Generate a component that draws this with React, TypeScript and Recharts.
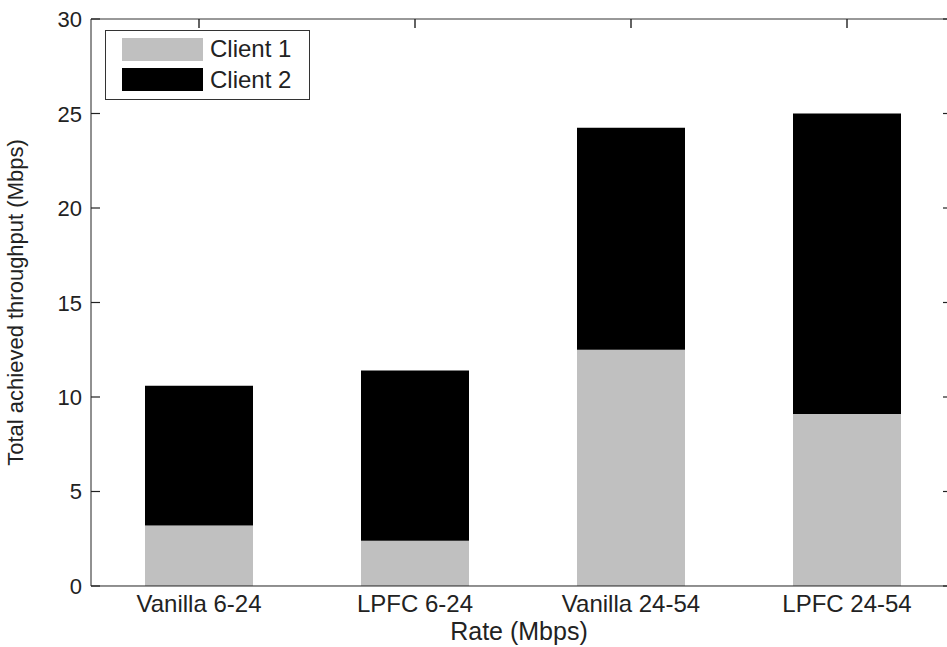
import { BarChart, Bar, XAxis, YAxis, Legend } from "recharts";

const categories = ["Vanilla 6-24", "LPFC 6-24", "Vanilla 24-54", "LPFC 24-54"];
const client1 = [3.2, 2.4, 12.5, 9.1];
const client2 = [7.4, 9.0, 11.75, 15.9];
const yTicks = [0, 5, 10, 15, 20, 25, 30];

const data = categories.map((name, i) => ({ name, c1: client1[i], c2: client2[i] }));

const FONT = "'Liberation Sans', Arial, sans-serif";
const INK = "#222";

// layout of the plot box (the right edge runs past the window, as in the original)
const CHART_W = 956;
const CHART_H = 647;
const MARGIN = { top: 19, right: 1, bottom: 61, left: 0 };
const Y_AXIS_W = 91;
const PLOT_W = CHART_W - MARGIN.left - MARGIN.right - Y_AXIS_W;
const PLOT_H = CHART_H - MARGIN.top - MARGIN.bottom;
const TICK = 9;

// MATLAB style: tick marks point into the plot, on left and right sides
const LeftTick = ({ x, y, payload }: any) => (
  <g>
    <line x1={x} y1={y} x2={x + TICK} y2={y} stroke={INK} strokeWidth={1.2} />
    <line x1={x + PLOT_W} y1={y} x2={x + PLOT_W - TICK - 3} y2={y} stroke={INK} strokeWidth={1.2} />
    <text x={x - 9} y={y} dy={8} textAnchor="end" fontSize={22} fontFamily={FONT} fill={INK}>
      {payload.value}
    </text>
  </g>
);

// label under the bar plus the inward tick on the top edge
const BottomTick = ({ x, y, payload }: any) => (
  <g>
    <rect x={x - 0.7} y={y - PLOT_H} width={1.4} height={TICK} fill={INK} />
    <text x={x} y={y + 26} textAnchor="middle" fontSize={24} fontFamily={FONT} fill={INK}>
      {payload.value}
    </text>
  </g>
);

const LegendBox = ({ payload }: any) => (
  <div
    style={{
      position: "relative",
      width: 205,
      height: 70,
      boxSizing: "border-box",
      border: "1px solid #333",
      background: "#fff",
      fontFamily: FONT,
    }}
  >
    {(payload || []).map((p: any, i: number) => (
      <div key={p.value}>
        <div
          style={{
            position: "absolute",
            left: 16,
            top: 7 + i * 30,
            width: 81,
            height: 23,
            background: p.color,
          }}
        />
        <div
          style={{
            position: "absolute",
            left: 104,
            top: 4 + i * 31,
            fontSize: 24,
            lineHeight: "28px",
            color: INK,
          }}
        >
          {p.value}
        </div>
      </div>
    ))}
  </div>
);

export default function App() {
  return (
    <div
      style={{
        position: "absolute",
        left: 0,
        top: 0,
        width: 947,
        height: 647,
        overflow: "hidden",
        background: "#fff",
      }}
    >
      <BarChart
        width={CHART_W}
        height={CHART_H}
        data={data}
        margin={MARGIN}
        barCategoryGap="25%"
      >
        <XAxis
          dataKey="name"
          height={0.001}
          tickSize={0}
          tickMargin={0}
          tickLine={false}
          axisLine={{ stroke: INK }}
          tick={<BottomTick />}
          interval={0}
          label={{
            content: ({ viewBox }: any) => (
              <text
                x={viewBox.x + viewBox.width / 2 - 4}
                y={viewBox.y + 54}
                textAnchor="middle"
                fontSize={25}
                fontFamily={FONT}
                fill={INK}
              >
                Rate (Mbps)
              </text>
            ),
          }}
        />
        <XAxis
          dataKey="name"
          xAxisId="top"
          orientation="top"
          height={0.001}
          tickLine={false}
          axisLine={{ stroke: "#333" }}
          tick={false}
        />
        <YAxis
          width={Y_AXIS_W}
          domain={[0, 30]}
          ticks={yTicks}
          tickSize={0}
          tickMargin={0}
          tickLine={false}
          axisLine={{ stroke: INK }}
          tick={<LeftTick />}
          label={{
            content: ({ viewBox }: any) => {
              const cx = 23;
              const cy = viewBox.y + viewBox.height / 2;
              return (
                <text
                  x={cx}
                  y={cy}
                  transform={`rotate(-90 ${cx} ${cy})`}
                  textAnchor="middle"
                  fontSize={22}
                  fontFamily={FONT}
                  fill={INK}
                >
                  Total achieved throughput (Mbps)
                </text>
              );
            },
          }}
        />
        <Legend
          layout="vertical"
          align="center"
          verticalAlign="middle"
          wrapperStyle={{ left: 105, top: 30, width: 205, height: 70 }}
          content={<LegendBox />}
        />
        <Bar dataKey="c1" name="Client 1" stackId="s" fill="#c0c0c0" isAnimationActive={false} />
        <Bar dataKey="c2" name="Client 2" stackId="s" fill="#000" isAnimationActive={false} />
      </BarChart>
    </div>
  );
}
